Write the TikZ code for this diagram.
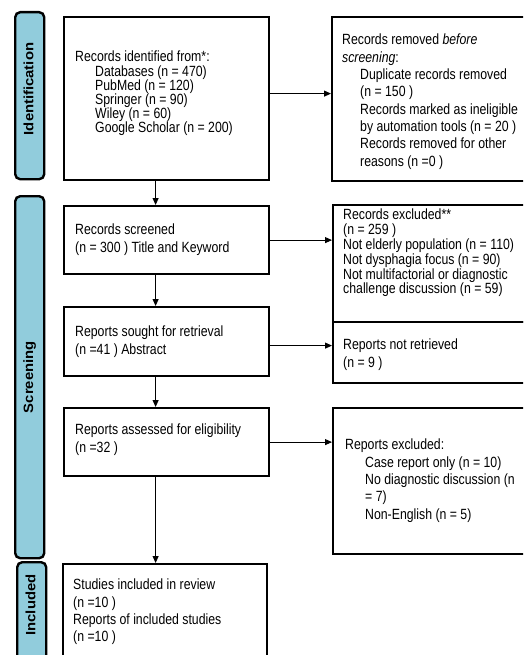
\documentclass[tikz,border=0pt]{standalone}
\usepackage{fontspec}
\setmainfont[FakeStretch=0.83]{Liberation Sans}
\newfontfamily\phasefont[FakeStretch=1.1]{Liberation Sans}
\usetikzlibrary{arrows.meta}
\definecolor{phaseblue}{RGB}{145,204,220}

\begin{document}
\begin{tikzpicture}[x=1pt,y=-1pt,
box/.style={draw,line width=2.2pt,anchor=north west,inner sep=0pt},
txt/.style={anchor=north west,align=left,inner sep=0pt,font=\fontsize{14.8}{17.3}\selectfont},
phase/.style={draw,fill=phaseblue,line width=2.4pt,rounded corners=5pt,anchor=north west,inner sep=0pt},
lbl/.style={rotate=90,font=\phasefont\bfseries\fontsize{13.5}{13.5}\selectfont},
arr/.style={-{Triangle[length=7pt,width=6pt]},line width=0.9pt}]
\useasboundingbox (0,0) rectangle (523,655);
\clip (0,0) rectangle (523,655);

\node[phase,minimum width=29pt,minimum height=167pt] (idphase) at (14,11) {};
\node[lbl] (idlabel) at (28.5,89) {Identification};
\node[phase,minimum width=29pt,minimum height=362pt] (scphase) at (14,195) {};
\node[lbl] (sclabel) at (scphase.center) {Screening};
\node[phase,minimum width=29pt,minimum height=110pt] (inphase) at (16,561) {};
\node[lbl] (inlabel) at (30.5,605) {Included};

\node[box,minimum width=205pt,minimum height=163pt] (idbox) at (63,16) {};
\node[box,minimum width=205pt,minimum height=68pt] (scrbox) at (63,205) {};
\node[box,minimum width=205pt,minimum height=69pt] (soughtbox) at (63,306) {};
\node[box,minimum width=205pt,minimum height=68pt] (asbox) at (63,407) {};
\node[box,minimum width=204pt,minimum height=110pt] (incbox) at (62,563) {};

\node[box,minimum width=220pt,minimum height=164pt] (rmbox) at (331,16) {};
\node[box,minimum width=220pt,minimum height=117pt] (exbox) at (332,204) {};
\node[box,minimum width=220pt,minimum height=61pt] (nrbox) at (332,321) {};
\node[box,minimum width=220pt,minimum height=146pt] (rebox) at (332,407) {};

\node[txt,font=\fontsize{14.8}{14.2}\selectfont] (idtext) at (75,51) {Records identified from*:\\
\hspace*{20pt}Databases (n = 470)\\
\hspace*{20pt}PubMed (n = 120)\\
\hspace*{20pt}Springer (n = 90)\\
\hspace*{20pt}Wiley (n = 60)\\
\hspace*{20pt}Google Scholar (n = 200)};
\node[txt] (scrtext) at (75,224) {Records screened\\(n = 300 ) Title and Keyword};
\node[txt] (soughttext) at (75,326) {Reports sought for retrieval\\(n =41 ) Abstract};
\node[txt] (astext) at (75,424) {Reports assessed for eligibility\\(n =32 )};
\node[txt] (inctext) at (73,579) {Studies included in review\\(n =10 )\\Reports of included studies\\(n =10 )};

\node[txt] (rmtext) at (342,34) {Records removed \textit{before}\\
\textit{screening}:\\
\hspace*{18pt}Duplicate records removed\\
\hspace*{18pt}(n = 150 )\\
\hspace*{18pt}Records marked as ineligible\\
\hspace*{18pt}by automation tools (n = 20 )\\
\hspace*{18pt}Records removed for other\\
\hspace*{18pt}reasons (n =0 )};
\node[txt,font=\fontsize{14.8}{14.8}\selectfont] (extext) at (343,209) {Records excluded**\\(n = 259 )\\Not elderly population (n = 110)\\Not dysphagia focus (n = 90)\\Not multifactorial or diagnostic\\challenge discussion (n = 59)};
\node[txt] (nrtext) at (343,339) {Reports not retrieved\\(n = 9 )};
\node[txt] (retext) at (345,439) {Reports excluded:\\
\hspace*{20pt}Case report only (n = 10)\\
\hspace*{20pt}No diagnostic discussion (n\\
\hspace*{20pt}= 7)\\
\hspace*{20pt}Non-English (n = 5)};

\draw[arr] ([yshift=5pt]idbox.east) -- ([yshift=5pt]idbox.east -| rmbox.west);
\draw[arr] (scrbox.east) -- (scrbox.east -| exbox.west);
\draw[arr] ([yshift=-4pt]soughtbox.east) -- ([yshift=-4pt]soughtbox.east -| nrbox.west);
\draw[arr] (asbox.east) -- (asbox.east -| rebox.west);

\draw[arr] ([xshift=-11pt]idbox.south) -- ([xshift=-11pt]scrbox.north);
\draw[arr] ([xshift=-11pt]scrbox.south) -- ([xshift=-11pt]soughtbox.north);
\draw[arr] ([xshift=-11pt]soughtbox.south) -- ([xshift=-11pt]asbox.north);
\draw[arr] ([xshift=-11pt]asbox.south) -- ([xshift=-11pt]asbox.south |- incbox.north);
\end{tikzpicture}
\end{document}
